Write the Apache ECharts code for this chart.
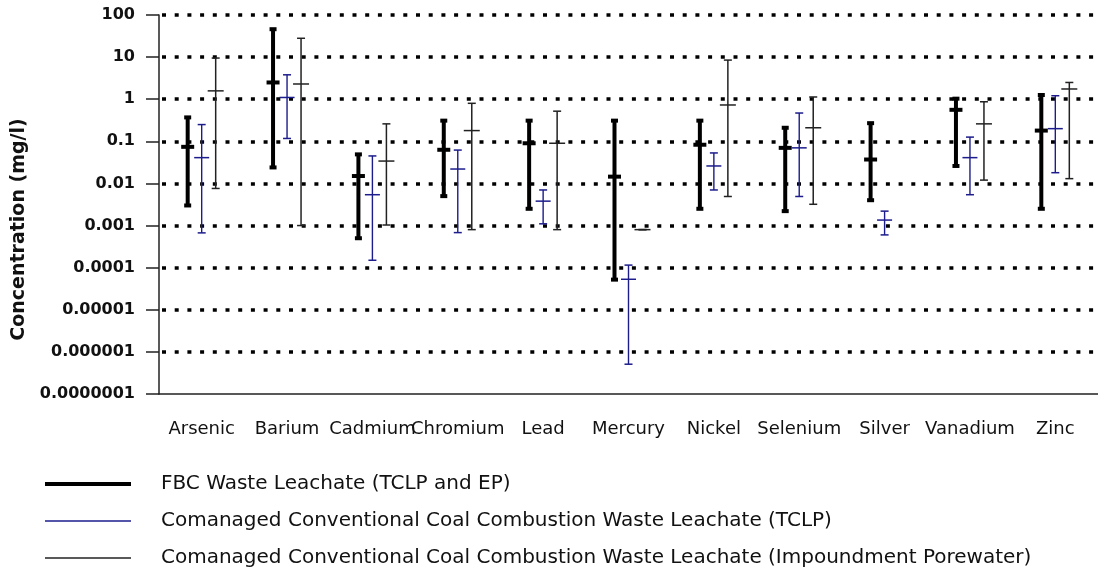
<!DOCTYPE html>
<html>
<head>
<meta charset="utf-8">
<script src="https://cdn.jsdelivr.net/npm/echarts/dist/echarts.min.js"></script>
<style>
  html, body { margin: 0; padding: 0; background: #fff; }
  #container { width: 1098px; height: 575px; }
</style>
</head>
<body>
<div id="container"></div>
<script>
var categories = ["Arsenic", "Barium", "Cadmium", "Chromium", "Lead", "Mercury",
  "Nickel", "Selenium", "Silver", "Vanadium", "Zinc"];

// FBC waste leachate (TCLP and EP)
var fbcLow = [0.003, 0.024, 0.0005, 0.005, 0.0025, 0.000052, 0.0025, 0.0022, 0.004, 0.026, 0.0025];
var fbcHigh = [0.37, 46, 0.049, 0.31, 0.31, 0.31, 0.31, 0.21, 0.27, 1.03, 1.26];
var fbcMid = [0.074, 2.5, 0.015, 0.063, 0.09, 0.0145, 0.083, 0.07, 0.037, 0.56, 0.18];

// comanaged, TCLP
var tclpLow = [0.00067, 0.117, 0.00015, 0.00068, 0.0011, 0.00000051, 0.007, 0.0049, 0.0006, 0.0054, 0.018];
var tclpHigh = [0.25, 3.8, 0.045, 0.062, 0.007, 0.000115, 0.053, 0.47, 0.0022, 0.126, 1.21];
var tclpMid = [0.041, 1.1, 0.0054, 0.022, 0.0038, 0.000053, 0.026, 0.07, 0.00135, 0.041, 0.2];

// comanaged, impoundment porewater (no silver)
var pondLow = [0.0076, 0.001, 0.00103, 0.0008, 0.0008, 0.0008, 0.0049, 0.0032, null, 0.012, 0.013];
var pondHigh = [9.5, 28, 0.26, 0.8, 0.52, 0.0008, 8.5, 1.13, null, 0.87, 2.5];
var pondMid = [1.58, 2.3, 0.034, 0.18, 0.09, 0.0008, 0.73, 0.21, null, 0.26, 1.75];

var seriesNames = [
  "FBC Waste Leachate (TCLP and EP)",
  "Comanaged Conventional Coal Combustion Waste Leachate (TCLP)",
  "Comanaged Conventional Coal Combustion Waste Leachate (Impoundment Porewater)"
];

function buildData(low, high, mid) {
  var out = [];
  for (var i = 0; i < categories.length; i++) {
    if (low[i] == null) continue;
    out.push([i, low[i], high[i], mid[i]]);
  }
  return out;
}

// error bar with caps and a median tick
function makeBar(offset, color, lw, capW, capLw, medW, medLw) {
  return function (params, api) {
    var x = api.value(0);
    var lo = api.coord([x, api.value(1)]);
    var hi = api.coord([x, api.value(2)]);
    var md = api.coord([x, api.value(3)]);
    var cx = lo[0] + offset;
    var st = { stroke: color, lineWidth: lw, lineCap: "butt" };
    var cst = { stroke: color, lineWidth: capLw, lineCap: "butt" };
    var mst = { stroke: color, lineWidth: medLw, lineCap: "butt" };
    return {
      type: "group",
      children: [
        { type: "line", shape: { x1: cx, y1: hi[1], x2: cx, y2: lo[1] }, style: st },
        { type: "line", shape: { x1: cx - capW / 2, y1: hi[1], x2: cx + capW / 2, y2: hi[1] }, style: cst },
        { type: "line", shape: { x1: cx - capW / 2, y1: lo[1], x2: cx + capW / 2, y2: lo[1] }, style: cst },
        { type: "line", shape: { x1: cx - medW / 2, y1: md[1], x2: cx + medW / 2, y2: md[1] }, style: mst }
      ]
    };
  };
}

var dom = document.getElementById("container");
var myChart = echarts.init(dom, null, { renderer: "canvas" });

var option = {
  animation: false,
  backgroundColor: "#fff",
  grid: { left: 159, right: 0, top: 15, bottom: 181 },
  legend: {
    orient: "vertical",
    left: 43,
    top: 474,
    padding: 0,
    itemWidth: 86,
    itemHeight: 14,
    itemGap: 17,
    data: [
      { name: seriesNames[0], lineStyle: { width: 4 }, itemStyle: { opacity: 0 } },
      { name: seriesNames[1], lineStyle: { width: 1.5 }, itemStyle: { opacity: 0 } },
      { name: seriesNames[2], lineStyle: { width: 1.5 }, itemStyle: { opacity: 0 } }
    ],
    textStyle: {
      fontFamily: "DejaVu Sans",
      fontSize: 20,
      color: "#111",
      padding: [0, 0, 0, 25]
    }
  },
  xAxis: {
    type: "category",
    data: categories,
    boundaryGap: true,
    axisLine: { lineStyle: { color: "#222", width: 1.5 } },
    axisTick: { alignWithLabel: true, length: 13, lineStyle: { color: "#222", width: 1.5 } },
    axisLabel: {
      interval: 0,
      margin: 26,
      fontFamily: "DejaVu Sans",
      fontSize: 18,
      color: "#111"
    },
    splitLine: { show: false }
  },
  yAxis: {
    type: "log",
    logBase: 10,
    min: 0.0000001,
    max: 100,
    name: "Concentration (mg/l)",
    nameLocation: "middle",
    nameGap: 126,
    nameTextStyle: {
      fontFamily: "DejaVu Sans",
      fontWeight: "bold",
      fontSize: 19,
      color: "#111",
      padding: [0, 50, 0, 0]
    },
    axisLine: { show: true, lineStyle: { color: "#222", width: 1.5 } },
    axisTick: { show: true, length: 13, lineStyle: { color: "#222", width: 1.5 } },
    axisLabel: {
      margin: 24,
      fontFamily: "DejaVu Sans",
      fontWeight: "bold",
      fontSize: 16,
      color: "#111",
      formatter: function (v) {
        if (v >= 1) return String(Math.round(v));
        var d = Math.round(-Math.log10(v));
        return v.toFixed(d);
      }
    },
    splitLine: {
      show: true,
      showMinLine: false,
      lineStyle: { color: "#000", width: 3.5, type: [4, 8.7], dashOffset: -3 }
    }
  },
  series: [
    // plain line series only carry the legend icons
    { name: seriesNames[0], type: "line", data: [], symbol: "none", lineStyle: { color: "#000", width: 4 }, itemStyle: { color: "#000" } },
    { name: seriesNames[1], type: "line", data: [], symbol: "none", lineStyle: { color: "#1c1c8c", width: 1.5 }, itemStyle: { color: "#1c1c8c" } },
    { name: seriesNames[2], type: "line", data: [], symbol: "none", lineStyle: { color: "#222", width: 1.5 }, itemStyle: { color: "#222" } },
    {
      name: seriesNames[0],
      type: "custom",
      renderItem: makeBar(-14, "#000", 4, 7, 4, 13, 4),
      encode: { x: 0, y: [1, 2, 3] },
      data: buildData(fbcLow, fbcHigh, fbcMid),
      z: 5
    },
    {
      name: seriesNames[1],
      type: "custom",
      renderItem: makeBar(0, "#1c1c8c", 1.4, 8, 1.5, 15, 1.5),
      encode: { x: 0, y: [1, 2, 3] },
      data: buildData(tclpLow, tclpHigh, tclpMid),
      z: 5
    },
    {
      name: seriesNames[2],
      type: "custom",
      renderItem: makeBar(14, "#222", 1.5, 8, 1.5, 16, 1.5),
      encode: { x: 0, y: [1, 2, 3] },
      data: buildData(pondLow, pondHigh, pondMid),
      z: 5
    }
  ]
};

myChart.setOption(option);
window.addEventListener("resize", myChart.resize);
</script>
</body>
</html>
